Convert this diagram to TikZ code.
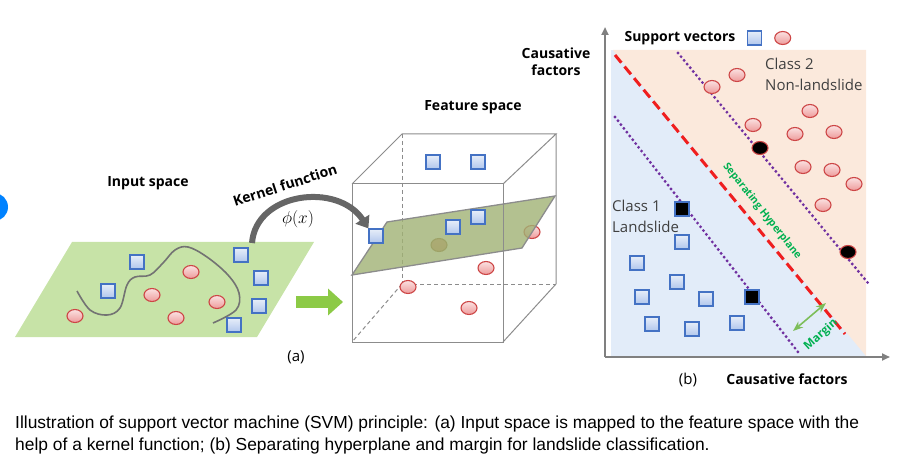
\documentclass[tikz,border=0pt]{standalone}
\usepackage{fontspec}
\setmainfont{Open Sans}
\newfontfamily\capfont{Liberation Sans}
\usetikzlibrary{arrows.meta, positioning, shapes.geometric, calc}
\definecolor{sqfill}{RGB}{176,198,236}
\definecolor{sqdraw}{RGB}{68,114,196}
\definecolor{cifill}{RGB}{238,155,155}
\definecolor{cidraw}{RGB}{205,70,70}
\definecolor{leafgreen}{RGB}{199,227,167}
\definecolor{cubeplane}{RGB}{160,178,116}
\definecolor{peach}{RGB}{251,233,220}
\definecolor{paleblue}{RGB}{226,236,249}
\definecolor{sepred}{RGB}{240,30,30}
\definecolor{marginpurple}{RGB}{112,48,160}
\definecolor{sepgreen}{RGB}{0,176,80}
\definecolor{margingreen}{RGB}{125,190,90}
\definecolor{arrowgreen}{RGB}{140,202,70}
\definecolor{axisgray}{RGB}{128,128,128}
\definecolor{dotblue}{RGB}{0,130,255}

\begin{document}
\begin{tikzpicture}[x=1pt, y=-1pt, >=Stealth,
    bluebox/.style = {rectangle, minimum size=14pt, inner sep=0pt, draw=sqdraw, line width=1.2pt, top color=sqfill!30!white, bottom color=sqfill},
    redball/.style = {ellipse, minimum width=16pt, minimum height=13pt, inner sep=0pt, draw=cidraw, line width=1.1pt, top color=cifill!30!white, bottom color=cifill},
    svbox/.style = {bluebox, top color=black, bottom color=black},
    svball/.style = {redball, top color=black, bottom color=black},
    hiddenball/.style = {redball, draw=brown!80!black, top color=brown!40!cifill, bottom color=brown!60!cifill},
    title/.style = {font=\fontsize{14}{17}\selectfont\bfseries, align=center},
    label/.style = {font=\fontsize{15}{21}\selectfont, text=black!75, align=left, anchor=west, inner sep=0pt},
    greentext/.style = {font=\fontsize{#1}{13}\selectfont\bfseries, text=sepgreen},
    edge/.style = {draw=black!45, line width=1pt},
    hidden/.style = {edge, dashed, dash pattern=on 4pt off 3pt},
    kernel/.style = {draw=black!60, line width=6pt, -{Triangle[length=11pt, width=16pt]}},
    axis/.style = {draw=axisgray, line width=2pt, -{Triangle[length=8pt, width=7pt]}},
    marginline/.style = {draw=marginpurple, line width=3.2pt, line cap=round, dash pattern=on 0pt off 4.8pt},
    caption/.style = {font=\capfont\fontsize{17.4}{20}\selectfont, anchor=west, inner sep=0pt}]
    \useasboundingbox (0,0) rectangle (897,473);
    \fill[dotblue] (-6,207) circle (14);

    % (a) input space
    \fill[leafgreen] (15,337) -- (257,337) -- (314,242) -- (72,242) -- cycle;
    \draw[black!55, line width=1.6pt] plot[smooth, tension=0.6] coordinates {(77,291) (90,310) (107,315) (120,308) (127,285) (135,277) (150,275) (163,263) (175,250) (188,247) (207,257) (228,275) (239,293) (236,310) (213,323)};
    \foreach \p [count=\i] in {(137,262), (108,291), (241,255), (261,278), (259,306), (234,325)}
        \node[bluebox] (ib\i) at \p {};
    \foreach \p [count=\i] in {(75,316), (152,295), (191,272), (176,318), (217,302)}
        \node[redball] (ir\i) at \p {};
    \node[title] (inlabel) at (148,183) {Input space};
    \node[title, rotate=18] (kernlabel) at (285,185) {Kernel function};
    \node[font=\fontsize{19}{22}\selectfont] (phi) at (298,219) {$\phi(x)$};
    \node[font=\fontsize{15}{18}\selectfont] (alabel) at (296,357) {(a)};
    \coordinate (gstart) at (296,302);
    \coordinate (gend) at (343,302);
    \draw[arrowgreen, line width=12pt, -{Triangle[length=15pt, width=26pt]}] (gstart) -- (gend);

    % (a) feature space
    \coordinate (f1) at (352,184); \coordinate (f2) at (503,184);
    \coordinate (f3) at (503,342); \coordinate (f4) at (352,342);
    \coordinate (b1) at (402,134); \coordinate (b2) at (556,134);
    \coordinate (b3) at (556,284); \coordinate (b4) at (402,284);
    \draw[hidden] (b1) -- (b4) -- (b3);
    \draw[hidden] (b4) -- (f4);
    \node[redball] (fr1) at (486,268) {};
    \node[redball] (fr2) at (408,287) {};
    \node[redball] (fr3) at (469,308) {};
    \node[redball] (fr4) at (532,232) {};
    \node[hiddenball] (fr5) at (439,245) {};
    \fill[cubeplane, opacity=0.8] (352,275) -- (387,222) -- (555,196) -- (522,248) -- cycle;
    \draw[black!45, line width=1.3pt] (352,275) -- (387,222) -- (555,196) -- (522,248) -- cycle;
    \draw[edge] (f1) -- (f2) -- (f3) -- (f4) -- cycle;
    \draw[edge] (f1) -- (b1) -- (b2) -- (f2);
    \draw[edge] (b2) -- (b3) -- (f3);
    \foreach \p [count=\i] in {(376,236), (453,227), (478,217), (433,162), (478,162)}
        \node[bluebox] (fb\i) at \p {};
    \node[title] (featlabel) at (473,107) {Feature space};
    \coordinate (kstart) at (252,243);
    \draw[kernel] (kstart) .. controls (256,192) and (338,182) .. (fb1.north west);

    % (b) background
    \fill[paleblue] (611,50) rectangle (866,356);
    \fill[peach] (613,50) -- (866,50) -- (866,356) -- cycle;

    % (b) lines
    \coordinate (s1) at (615,55); \coordinate (s2) at (845,334);
    \coordinate (u1) at (678,53); \coordinate (u2) at (868,283);
    \coordinate (l1) at (615,117); \coordinate (l2) at (798,352);
    \draw[sepred, line width=3pt, dash pattern=on 10pt off 5pt] (s1) -- (s2);
    \draw[marginline] (u1) -- (u2);
    \draw[marginline] (l1) -- (l2);
    \coordinate (m1) at (793,331); \coordinate (m2) at (826,303);
    \draw[margingreen, line width=1.6pt, <->] (m1) -- (m2);

    % (b) points
    \foreach \p [count=\i] in {(682,242), (637,263), (677,282), (642,297), (706,299), (652,324), (692,329), (737,323)}
        \node[bluebox] (rb\i) at \p {};
    \node[svbox] (sb1) at (682,209) {};
    \node[svbox] (sb2) at (752,297) {};
    \foreach \p [count=\i] in {(712,87), (737,75), (810,111), (753,125), (795,134), (834,132), (803,167), (832,170), (854,184), (823,205)}
        \node[redball] (rr\i) at \p {};
    \node[svball] (sr1) at (760,148) {};
    \node[svball] (sr2) at (848,252) {};

    % (b) axes
    \coordinate (origin) at (605,357);
    \coordinate (ytop) at (605,27);
    \coordinate (xend) at (890,357);
    \draw[axis] (origin) -- (ytop);
    \draw[axis] (origin) -- (xend);

    % (b) texts
    \node[title] (ylabel) at (556,62) {Causative\\factors};
    \node[title] (svlabel) at (680,38) {Support vectors};
    \node[bluebox, right=8pt of svlabel] (svsq) {};
    \node[redball, right=12pt of svsq] (svci) {};
    \node[label] (class2) at (765,74) {Class 2\\Non-landslide};
    \node[label] (class1) at (612,216) {Class 1\\Landslide};
    \node[greentext=10.4, rotate=-51.5] (seplabel) at (762,211) {Separating Hyperplane};
    \node[greentext=11.5, rotate=42] (marglabel) at (821,335) {Margin};
    \node[font=\fontsize{15}{18}\selectfont] (blabel) at (688,380) {(b)};
    \node[title] (xlabel) at (787,379) {Causative factors};

    % caption
    \node[caption] (cap1) at (15,424) {Illustration of support vector machine (SVM) principle: (a) Input space is mapped to the feature space with the};
    \node[caption] (cap2) at (15,446) {help of a kernel function; (b) Separating hyperplane and margin for landslide classification.};
\end{tikzpicture}
\end{document}
